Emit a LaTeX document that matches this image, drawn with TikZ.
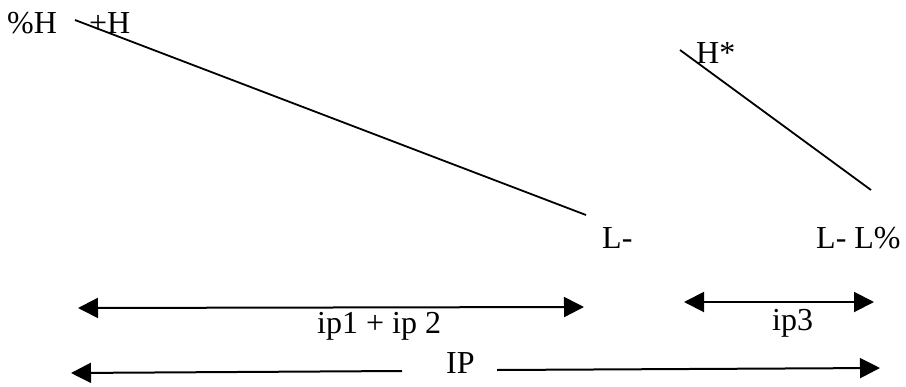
\documentclass[tikz,border=0pt]{standalone}
\usepackage{fontspec}
\setmainfont{Liberation Serif}
\usetikzlibrary{arrows.meta}
\begin{document}
\begin{tikzpicture}[x=1pt,y=-1pt,
  lbl/.style={anchor=base west,inner sep=0pt,font=\fontsize{32}{36}\selectfont},
  contour/.style={line width=1.8pt},
  span/.style={line width=2pt,{Triangle[length=20pt,width=20pt]}-{Triangle[length=20pt,width=20pt]}},
  halfl/.style={line width=2pt,{Triangle[length=20pt,width=20pt]}-},
  halfr/.style={line width=2pt,-{Triangle[length=20pt,width=20pt]}}]
\useasboundingbox (0,0) rectangle (906,386);
% labels
\node[lbl] (pH) at (7,33) {\%H};
\node[lbl] (plH) at (89,33) {+H};
\node[lbl] (Hs) at (696,63) {H*};
\node[lbl] (Lm) at (602,248) {L-};
\node[lbl] (LL) at (816,248) {L- L\%};
\node[lbl] (ip12) at (317,333) {ip1 + ip 2};
\node[lbl] (ip3) at (772,330) {ip3};
\node[lbl] (IP) at (446,373) {IP};
% contour lines
\coordinate (c1) at (75,20);
\coordinate (c2) at (586,215);
\coordinate (c3) at (680,50);
\coordinate (c4) at (871,190);
\draw[contour] (c1) -- (c2);
\draw[contour] (c3) -- (c4);
% spans
\coordinate (a1l) at (78,308);
\coordinate (a1r) at (584,307);
\coordinate (a2l) at (684,302);
\coordinate (a2r) at (874,302);
\coordinate (a3l) at (71,373);
\coordinate (a3m1) at (402,371);
\coordinate (a3m2) at (497,370);
\coordinate (a3r) at (880,368);
\draw[span] (a1l) -- (a1r);
\draw[span] (a2l) -- (a2r);
\draw[halfl] (a3l) -- (a3m1);
\draw[halfr] (a3m2) -- (a3r);
\end{tikzpicture}
\end{document}
